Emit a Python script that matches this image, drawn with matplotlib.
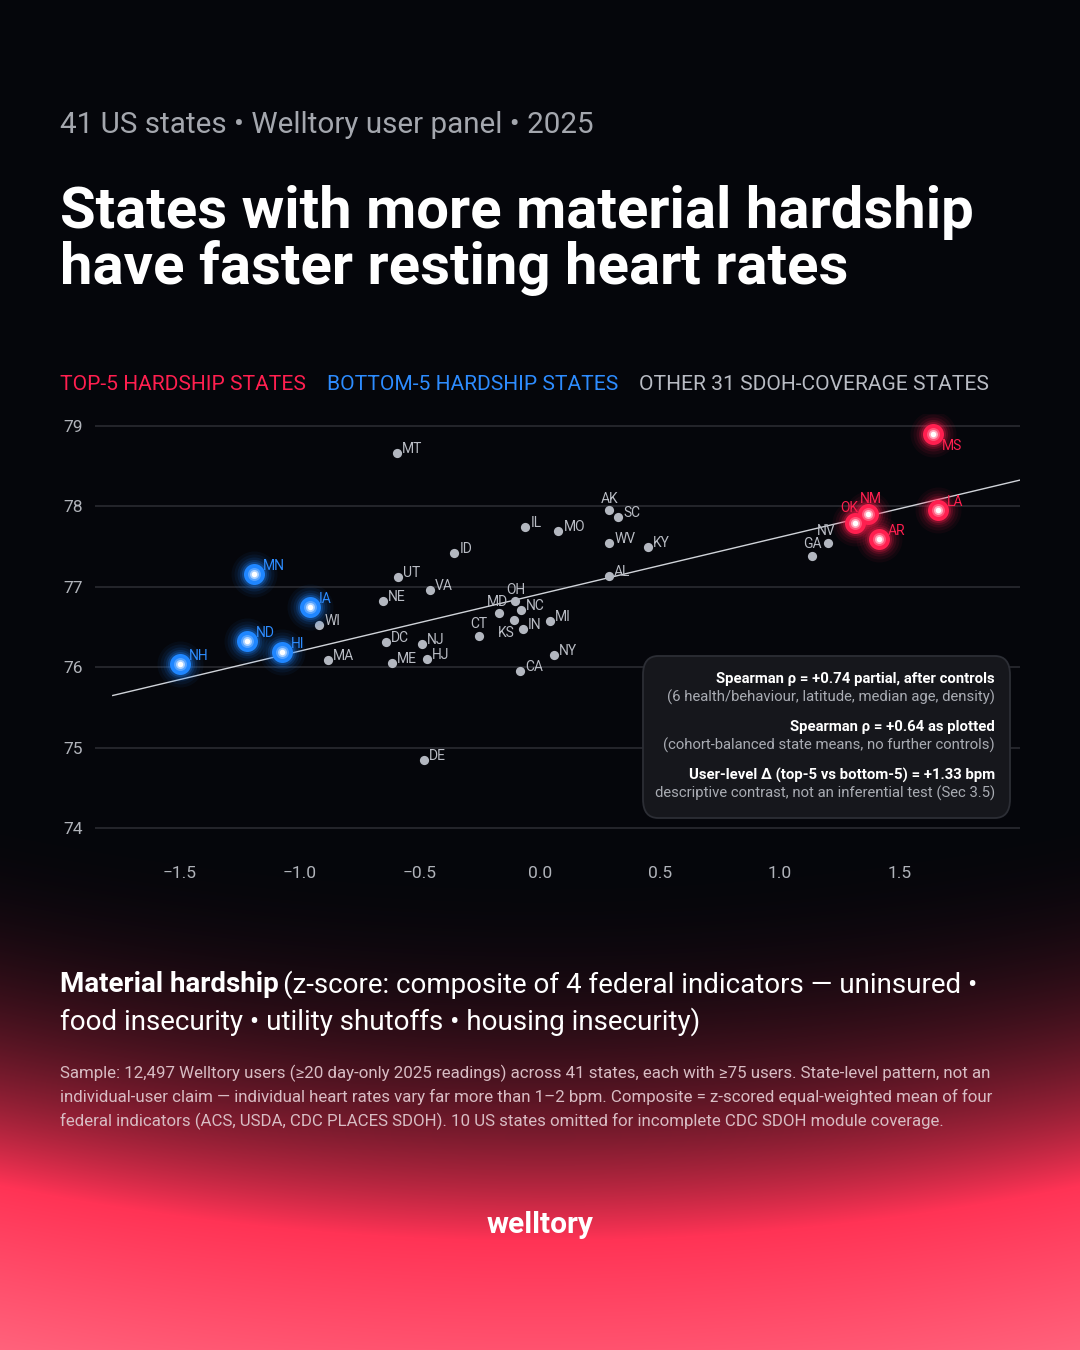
import numpy as np
import matplotlib
matplotlib.use("Agg")
import matplotlib.pyplot as plt
from matplotlib.patches import FancyBboxPatch

plt.rcParams["font.family"] = ["Roboto", "DejaVu Sans"]

# state-level data
top_states = ["MS", "LA", "NM", "OK", "AR"]
top_hardship = [1.638, 1.658, 1.367, 1.311, 1.411]
top_rhr = [78.90, 77.95, 77.90, 77.80, 77.60]

bottom_states = ["MN", "IA", "ND", "HI", "NH"]
bottom_hardship = [-1.193, -0.960, -1.222, -1.076, -1.501]
bottom_rhr = [77.155, 76.745, 76.32, 76.185, 76.044]

other_states = ["MT", "WI", "MA", "NE", "UT", "ID", "VA", "DC", "NJ", "ME",
                "HJ", "IL", "CT", "MD", "OH", "NC", "KS", "IN", "CA", "MO",
                "AK", "SC", "WV", "KY", "AL", "MI", "NY", "GA", "NV", "DE"]
other_hardship = [-0.595, -0.920, -0.882, -0.653, -0.590, -0.357, -0.458, -0.640, -0.490, -0.615,
                  -0.470, -0.061, -0.253, -0.170, -0.104, -0.078, -0.107, -0.070, -0.082, 0.077,
                  0.288, 0.326, 0.288, 0.448, 0.288, 0.042, 0.057, 1.135, 1.200, -0.483]
other_rhr = [78.67, 76.53, 76.09, 76.82, 77.12, 77.42, 76.96, 76.31, 76.285, 76.05,
             76.10, 77.74, 76.39, 76.68, 76.82, 76.71, 76.59, 76.48, 75.95, 77.69,
             77.95, 77.87, 77.55, 77.50, 77.14, 76.57, 76.15, 77.38, 77.54, 74.84]

x_ticks = [-1.5, -1.0, -0.5, 0.0, 0.5, 1.0, 1.5]
x_tick_labels = ["\u22121.5", "\u22121.0", "\u22120.5", "0.0", "0.5", "1.0", "1.5"]
y_ticks = [74, 75, 76, 77, 78, 79]

# trend line as drawn in the chart
trend_slope = 0.709
trend_intercept = 76.91
trend_range = (-1.78, 2.0)

stats_lines = [
    ("Spearman \u03c1 = +0.74 partial, after controls", "(6 health/behaviour, latitude, median age, density)"),
    ("Spearman \u03c1 = +0.64 as plotted", "(cohort-balanced state means, no further controls)"),
    ("User-level \u0394 (top-5 vs bottom-5) = +1.33 bpm", "descriptive contrast, not an inferential test (Sec 3.5)"),
]

RED = "#ff1f4f"
BLUE = "#1f86ff"
GREY_DOT = "#b3b7c0"
GREY_TXT = "#b9bcc4"
W, H = 1080, 1350

# label placement: (dx px, dy px, ha)
label_pos = {
    "KS": (0, -13, "right"), "MD": (-2, 11, "center"), "OH": (1, 11, "center"),
    "AK": (0, 11, "center"), "NV": (-2, 12, "center"), "GA": (0, 12, "center"),
    "CT": (0, 12, "center"), "MS": (9, -12, "left"), "NM": (3, 15, "center"),
    "OK": (4, 15, "right"),
}

fig = plt.figure(figsize=(10.8, 13.5), dpi=100)

# background gradient
yy, xx = np.mgrid[0:H, 0:W]
yeff = yy + 55 * ((xx - 540) / 540) ** 2
base = np.array([5, 6, 11]) / 255
mid = np.array([255, 51, 85]) / 255
end = np.array([255, 100, 125]) / 255
t1 = np.clip((yeff - 850) / 390, 0, 1) ** 2.4
t2 = np.clip((yeff - 1240) / 170, 0, 1)
img = base + (mid - base) * t1[..., None]
img = img + (end - mid) * t2[..., None]
bg = fig.add_axes([0, 0, 1, 1], zorder=-5)
bg.imshow(np.clip(img, 0, 1), extent=[0, W, H, 0], aspect="auto")
bg.axis("off")


def fx(px):
    return px / W


def fy(py):
    return 1 - py / H


# header
fig.text(fx(60), fy(125), "41 US states \u2022 Welltory user panel \u2022 2025",
         color="#a4a7ae", fontsize=21.3, va="center", ha="left")
fig.text(fx(60), fy(228), "States with more material hardship",
         color="white", fontsize=41.8, fontweight="bold", va="baseline")
fig.text(fx(60), fy(284), "have faster resting heart rates",
         color="white", fontsize=41.8, fontweight="bold", va="baseline")

# legend row
r = fig.canvas.get_renderer()
xcur = 60
for txt, col in [("TOP-5 HARDSHIP STATES", RED), ("BOTTOM-5 HARDSHIP STATES", "#2d8cff"),
                 ("OTHER 31 SDOH-COVERAGE STATES", GREY_TXT)]:
    t = fig.text(fx(xcur), fy(385), txt, color=col, fontsize=15.1, va="center")
    bb = t.get_window_extent(renderer=r)
    xcur += bb.width + 21

# main axes
ax = fig.add_axes([95 / W, 1 - 840 / H, 925 / W, 426 / H])
ax.set_facecolor("none")
ax.set_xlim(-1.854, 2.0)
ax.set_ylim(73.85, 79.15)
for s in ax.spines.values():
    s.set_visible(False)
ax.set_yticks(y_ticks)
ax.set_xticks(x_ticks)
ax.set_xticklabels(x_tick_labels)
ax.tick_params(axis="both", length=0, colors="#b0b3ba", labelsize=12.5)
ax.tick_params(axis="x", pad=19)
ax.tick_params(axis="y", pad=9)
ax.grid(axis="y", color="#2a2b31", lw=1.2)
ax.set_axisbelow(True)

tx = np.array(trend_range)
ax.plot(tx, trend_intercept + trend_slope * tx, color="#d0d3d9", lw=1, zorder=2)

# other states
ax.scatter(other_hardship, other_rhr, s=44, color=GREY_DOT, lw=0, zorder=3)


def glow(xs, ys, col):
    for d, a in [(46, 0.05), (40, 0.07), (34, 0.10), (29, 0.16), (25, 0.25)]:
        ax.scatter(xs, ys, s=(d * 0.72) ** 2, color=col, alpha=a, lw=0, zorder=4)
    ax.scatter(xs, ys, s=(21 * 0.72) ** 2, color=col, lw=0, zorder=5)
    ax.scatter(xs, ys, s=(13 * 0.72) ** 2, color="white", alpha=0.25, lw=0, zorder=6)
    ax.scatter(xs, ys, s=(9 * 0.72) ** 2, color="white", alpha=0.5, lw=0, zorder=6)
    ax.scatter(xs, ys, s=(5.5 * 0.72) ** 2, color="white", lw=0, zorder=7)


glow(bottom_hardship, bottom_rhr, BLUE)
glow(top_hardship, top_rhr, RED)


def put_label(name, x, y, col, default):
    dx, dy, ha = label_pos.get(name, default)
    ax.annotate(name, (x, y), xytext=(dx * 0.72, dy * 0.72), textcoords="offset points",
                ha=ha, va="center", color=col, fontsize=10, zorder=8)


for n, x, y in zip(other_states, other_hardship, other_rhr):
    put_label(n, x, y, GREY_TXT, (5, 4, "left"))
for n, x, y in zip(bottom_states, bottom_hardship, bottom_rhr):
    put_label(n, x, y, "#2d8cff", (9, 8, "left"))
for n, x, y in zip(top_states, top_hardship, top_rhr):
    put_label(n, x, y, RED, (9, 8, "left"))

# stats box
box = FancyBboxPatch((fx(643), fy(818)), (1010 - 643) / W, (818 - 656) / H,
                     boxstyle="round,pad=0,rounding_size=0.014", transform=fig.transFigure,
                     facecolor="#16171c", edgecolor="#2c2e35", lw=1.3, zorder=10)
fig.patches.append(box)
ycur = 679
for bold, light in stats_lines:
    fig.text(fx(995), fy(ycur), bold, color="white", fontsize=10.7, fontweight="bold",
             ha="right", va="center", zorder=11)
    fig.text(fx(995), fy(ycur + 18), light, color="#a9acb3", fontsize=10.7,
             ha="right", va="center", zorder=11)
    ycur += 48

# x-axis description
t = fig.text(fx(60), fy(985), "Material hardship", color="white", fontsize=20,
             fontweight="bold", va="center")
bb = t.get_window_extent(renderer=r)
fig.text(fx(60) + bb.width / W + 4 / W, fy(985),
         "(z-score: composite of 4 federal indicators \u2014 uninsured \u2022",
         color="white", fontsize=20, va="center")
fig.text(fx(60), fy(1022), "food insecurity \u2022 utility shutoffs \u2022 housing insecurity)",
         color="white", fontsize=20, va="center")

foot = [
    "Sample: 12,497 Welltory users (\u226520 day-only 2025 readings) across 41 states, each with \u226575 users. State-level pattern, not an",
    "individual-user claim \u2014 individual heart rates vary far more than 1\u20132 bpm. Composite = z-scored equal-weighted mean of four",
    "federal indicators (ACS, USDA, CDC PLACES SDOH). 10 US states omitted for incomplete CDC SDOH module coverage.",
]
for i, line in enumerate(foot):
    fig.text(fx(60), fy(1073 + 24 * i), line, color="#d8bcc3", fontsize=12.2, va="center")

fig.text(0.5, fy(1225), "welltory", color="white", fontsize=21.5, fontweight="bold",
         ha="center", va="center")

fig.savefig("out.png", dpi=100)
